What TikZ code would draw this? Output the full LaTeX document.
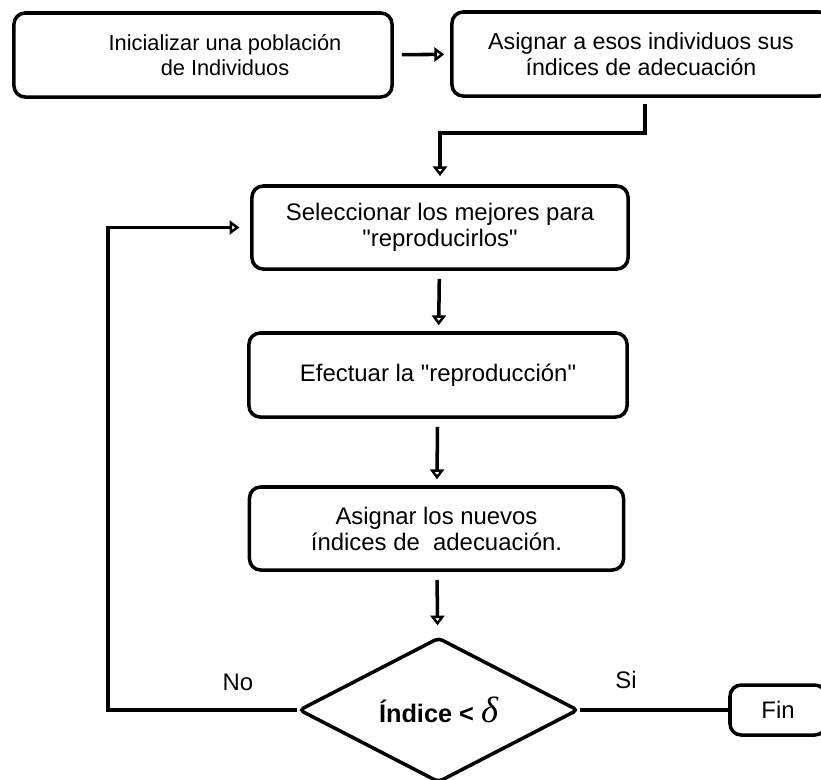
\documentclass[tikz,border=0pt]{standalone}
\usepackage{fontspec}
\newfontfamily\arialfont{Liberation Sans}
\newfontfamily\deltafont{Liberation Serif}
\usepackage{tikz}
\usetikzlibrary{shapes.geometric,arrows.meta,positioning,calc}

\begin{document}
\begin{tikzpicture}[
        x=0.025cm, y=-0.025cm,
        every node/.style={font=\arialfont\fontsize{17}{18.5}\selectfont},
        stepbox/.style={draw, line width=2.5pt, rounded corners=8pt,
          minimum width=9.45cm, minimum height=2.1cm, align=center},
        arr/.style={-{Triangle[open,length=7pt,width=10pt]}, line width=2.5pt,
          shorten <=0.2cm, shorten >=0.15cm}
      ]
        \clip (0,0) rectangle (821,779);
        % Start of the loop
        \node[stepbox, font=\arialfont\fontsize{15.5}{18}\selectfont] (init) at (203,55)
          {\hspace*{1.1cm}Inicializar una población\\\hspace*{1.1cm}de Individuos};
        \node[stepbox, font=\arialfont\fontsize{16.5}{18.5}\selectfont] (asig) at (641,54)
          {Asignar a esos individuos sus\\índices de adecuación};
        \draw[arr] (init) -- (asig);
        % Generation steps
        \node[stepbox, minimum width=9.4cm, minimum height=2.075cm] (selec) at (440,227.5)
          {Seleccionar los mejores para\\"reproducirlos"};
        \node[stepbox] (repro) at (438,375)
          {Efectuar la "reproducción"};
        \node[stepbox, minimum width=9.35cm, minimum height=2.075cm] (eval) at (436.5,528.5)
          {Asignar los nuevos\\índices de\ \ adecuación.};
        \coordinate (bend) at (645,133);
        \draw[arr, shorten <=0.15cm, shorten >=0.2cm]
          (asig.south -| bend) -- (bend) -| (selec.north);
        \draw[arr] (selec) -- (repro);
        \draw[arr] (repro) -- (eval);
        % Stop test
        \node[draw, diamond, line width=2.5pt, rounded corners=3pt, inner sep=0pt,
              minimum width=6.98cm, minimum height=3.45cm] (cond) at (438.5,710)
          {\fontsize{18}{18}\selectfont\bfseries Índice <
           {\deltafont\mdseries\itshape\fontsize{26}{26}\selectfont δ}};
        \draw[arr, shorten >=0.27cm] (eval) -- (cond);
        \node[stepbox, minimum width=2.4cm, minimum height=1.25cm] (fin) at (778,710) {Fin};
        \draw[line width=2.5pt] (cond.east) -- (fin.west);
        \node (si) at (626,680) {Si};
        \node (no) at (238,682) {No};
        % Back to selection
        \coordinate (ret) at (108,0);
        \draw[arr, shorten <=0pt, shorten >=0.27cm]
          (cond.west) -- (cond.west -| ret) |- (selec.west);
      \end{tikzpicture}
\end{document}
